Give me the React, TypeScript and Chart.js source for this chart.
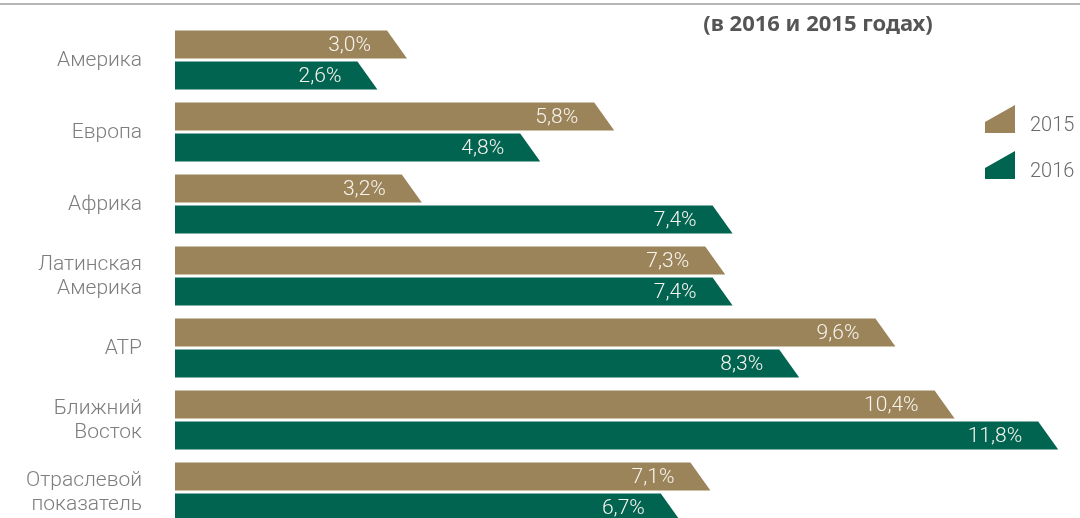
import React, { useEffect, useRef } from 'react';
import { Chart, registerables } from 'chart.js';

Chart.register(...registerables);

const categories: string[][] = [
  ['Америка'],
  ['Европа'],
  ['Африка'],
  ['Латинская', 'Америка'],
  ['АТР'],
  ['Ближний', 'Восток'],
  ['Отраслевой', 'показатель'],
];
const seriesNames = ['2015', '2016'];
const values2015 = [3.0, 5.8, 3.2, 7.3, 9.6, 10.4, 7.1];
const values2016 = [2.6, 4.8, 7.4, 7.4, 8.3, 11.8, 6.7];
const titleText = '(в 2016 и 2015 годах)';

const COLORS = ['#9b835a', '#006450'];
const LABEL_FONT = '300 21px Roboto';
const fmt = (v: number) => v.toFixed(1).replace('.', ',') + '%';

const shapePlugin = {
  id: 'shapes',
  beforeDatasetDraw(chart: any, args: any) {
    const ctx = chart.ctx;
    const meta = args.meta;
    const color = COLORS[args.index];
    const ds = chart.data.datasets[args.index];
    ctx.save();
    meta.data.forEach((el: any, i: number) => {
      const { x, y, base, height } = el.getProps(['x', 'y', 'base', 'height'], true);
      const top = y - height / 2;
      const bot = y + height / 2;
      const half = 10;
      ctx.fillStyle = color;
      ctx.beginPath();
      ctx.moveTo(base, top);
      ctx.lineTo(x - half, top);
      ctx.lineTo(x + half, bot);
      ctx.lineTo(base, bot);
      ctx.closePath();
      ctx.fill();
      ctx.fillStyle = '#f7f4ee';
      ctx.font = LABEL_FONT;
      ctx.textAlign = 'right';
      ctx.textBaseline = 'middle';
      ctx.fillText(fmt(ds.data[i]), x - 26, y + 1);
    });
    ctx.restore();
    return false;
  },
  afterDraw(chart: any) {
    const ctx = chart.ctx;
    const yScale = chart.scales.y;
    ctx.save();
    // top rule
    ctx.fillStyle = '#b5b5b5';
    ctx.fillRect(0, 3, chart.width, 2);
    // title
    ctx.fillStyle = '#555555';
    ctx.font = 'bold 22px "Noto Sans"';
    ctx.textAlign = 'center';
    ctx.textBaseline = 'middle';
    ctx.fillText(titleText, 818, 25);
    // category labels
    ctx.fillStyle = '#7d7d7d';
    ctx.font = '300 21px Roboto';
    ctx.textAlign = 'right';
    categories.forEach((lines, i) => {
      const cy = yScale.getPixelForValue(i);
      const lh = 24;
      const start = cy - ((lines.length - 1) * lh) / 2;
      lines.forEach((ln, j) => ctx.fillText(ln, 142, start + j * lh + 1));
    });
    // legend
    const legendY = [133, 179];
    seriesNames.forEach((name, i) => {
      const by = legendY[i];
      ctx.fillStyle = COLORS[i];
      ctx.beginPath();
      ctx.moveTo(985, by);
      ctx.lineTo(985, by - 11);
      ctx.lineTo(1015, by - 28);
      ctx.lineTo(1015, by);
      ctx.closePath();
      ctx.fill();
      ctx.fillStyle = '#6a6a6a';
      ctx.font = '300 20px Roboto';
      ctx.textAlign = 'left';
      ctx.fillText(name, 1030, by - 7);
    });
    ctx.restore();
  },
};

export default function App() {
  const ref = useRef<HTMLCanvasElement | null>(null);
  useEffect(() => {
    document.body.style.margin = '0';
    document.body.style.overflow = 'hidden';
    const canvas = ref.current!;
    const chart = new Chart(canvas, {
      type: 'bar',
      data: {
        labels: categories,
        datasets: [
          { label: seriesNames[0], data: values2015, backgroundColor: COLORS[0] },
          { label: seriesNames[1], data: values2016, backgroundColor: COLORS[1] },
        ],
      },
      options: {
        indexAxis: 'y',
        responsive: false,
        animation: false,
        devicePixelRatio: 1,
        layout: { padding: { left: 175, right: 17, top: 24, bottom: 12 } },
        datasets: { bar: { categoryPercentage: 0.86, barPercentage: 0.91 } },
        scales: {
          x: { display: false, min: 0, max: 12 },
          y: { display: false },
        },
        plugins: {
          legend: { display: false },
          tooltip: { enabled: false },
          title: { display: false },
        },
      },
      plugins: [shapePlugin],
    });
    return () => chart.destroy();
  }, []);
  return (
    <div style={{ position: 'relative', width: 1080, height: 518, overflow: 'hidden' }}>
      <canvas ref={ref} width={1080} height={540} style={{ display: 'block' }} />
    </div>
  );
}
